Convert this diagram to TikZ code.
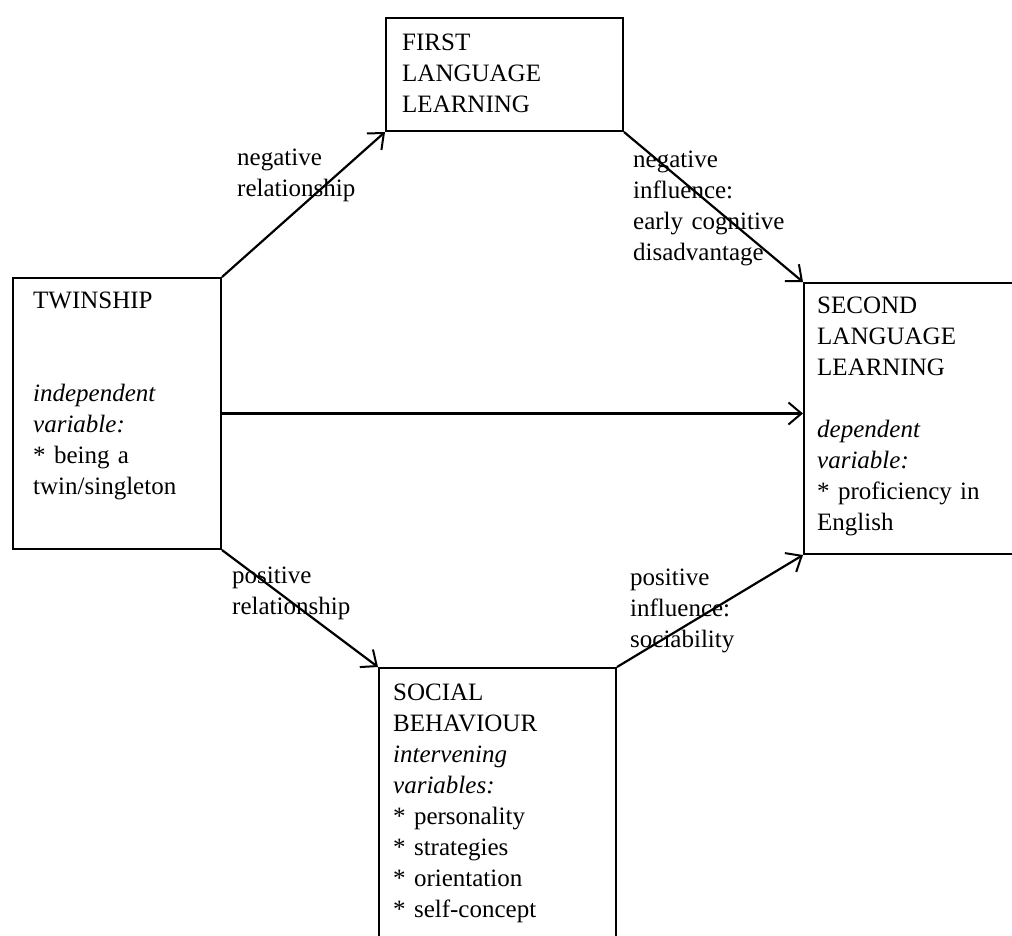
\documentclass[tikz,border=0pt]{standalone}
\usepackage{fontspec}
\setmainfont{Liberation Serif}
\usetikzlibrary{arrows.meta}
\begin{document}
\begin{tikzpicture}[x=1pt,y=-1pt,
  box/.style={draw,line width=2pt,rectangle,inner sep=0pt,anchor=north west},
  txt/.style={inner sep=0pt,anchor=base west,align=left,text width=#1,
    font=\fontsize{25}{31}\selectfont},
  txt/.default=220pt,
  conn/.style={line width=2.2pt,-{Straight Barb[length=13pt,width=22pt,line width=2pt]}}]
\useasboundingbox (0,0) rectangle (1012,935);
% boxes
\node[box,minimum width=237pt,minimum height=113pt] (fll) at (385,17) {};
\node[box,minimum width=208pt,minimum height=271pt] (tw) at (12,277) {};
\node[box,minimum width=215pt,minimum height=271pt] (sll) at (803,282) {};
\node[box,minimum width=237pt,minimum height=285pt] (soc) at (378,667) {};
% box texts
\node[txt] (fllt) at (402,50) {FIRST\\LANGUAGE\\LEARNING};
\node[txt=185pt] (twt) at (33,308) {TWINSHIP\\[62pt]\textit{independent}\\\textit{variable:}\\{}* being a\\twin/singleton};
\node[txt=195pt] (sllt) at (817,313) {SECOND\\LANGUAGE\\LEARNING\\[31pt]\textit{dependent}\\\textit{variable:}\\{}* proficiency in\\English};
\node[txt] (soct) at (393,700) {SOCIAL\\BEHAVIOUR\\\textit{intervening}\\\textit{variables:}\\{}* personality\\{}* strategies\\{}* orientation\\{}* self-concept};
% connectors
\draw[conn] (tw.north east) -- (fll.south west);
\draw[conn] (fll.south east) -- (sll.north west);
\draw[conn] (tw.east) -- (tw.east -| sll.west);
\draw[conn] (tw.south east) -- (soc.north west);
\draw[conn] (soc.north east) -- (sll.south west);
% labels
\node[txt] (l1) at (237,165) {negative\\relationship};
\node[txt] (l2) at (633,167) {negative\\influence:\\early cognitive\\disadvantage};
\node[txt] (l3) at (232,583) {positive\\relationship};
\node[txt] (l4) at (630,585) {positive\\influence:\\sociability};
\end{tikzpicture}
\end{document}
